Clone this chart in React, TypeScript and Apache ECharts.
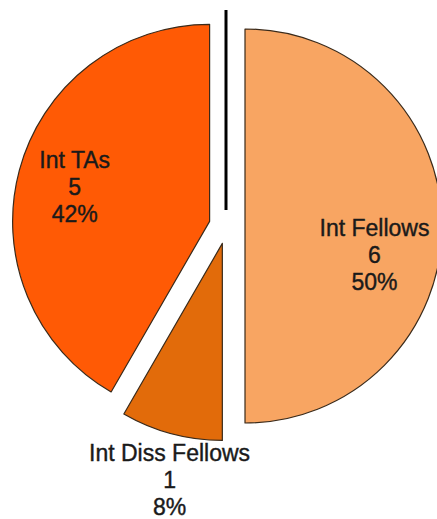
import React, { useEffect, useRef } from "react";
import * as echarts from "echarts";

const categories = ["Int Fellows", "Int Diss Fellows", "Int TAs"];
const values = [6, 1, 5];
const colors = ["#F8A562", "#E26B0A", "#FF5A05"];

export default function App() {
  const ref = useRef<HTMLDivElement>(null);
  useEffect(() => {
    document.body.style.margin = "0";
    const chart = echarts.init(ref.current!, null, { renderer: "svg" });
    const data = categories.map((name, i) => ({
      name,
      value: values[i],
      selected: true,
      itemStyle: { color: colors[i] },
    }));
    const labelShift: Record<number, { dx: number; dy: number }> = {
      0: { dx: -5, dy: 29 },
      1: { dx: -18, dy: 107 },
      2: { dx: -5, dy: 0 },
    };
    chart.setOption({
      animation: false,
      backgroundColor: "#ffffff",
      graphic: [
        {
          type: "line",
          shape: { x1: 226, y1: 10, x2: 226, y2: 210 },
          style: { stroke: "#000000", lineWidth: 3 },
        },
      ],
      series: [
        {
          type: "pie",
          center: [227, 226],
          radius: [0, 197],
          startAngle: 90,
          clockwise: true,
          selectedMode: "multiple",
          selectedOffset: 18,
          percentPrecision: 0,
          label: { show: false },
          labelLine: { show: false },
          emphasis: { disabled: true },
          itemStyle: { borderColor: "#3a2a1a", borderWidth: 1.2 },
          data,
        },
        {
          type: "pie",
          center: [227, 226],
          radius: [66, 197],
          startAngle: 90,
          clockwise: true,
          selectedMode: "multiple",
          selectedOffset: 18,
          percentPrecision: 0,
          silent: true,
          emphasis: { disabled: true },
          itemStyle: { color: "rgba(0,0,0,0)", borderWidth: 0 },
          labelLine: { show: false },
          label: {
            show: true,
            position: "inside",
            formatter: "{b}\n{c}\n{d}%",
            fontFamily: "Liberation Sans, Arial, sans-serif",
            fontSize: 23,
            lineHeight: 27,
            color: "#1a1a1a",
            textBorderColor: "#1a1a1a",
            textBorderWidth: 0.4,
            align: "center",
          },
          labelLayout: (p: any) => labelShift[p.dataIndex] || {},
          data: categories.map((name, i) => ({
            name,
            value: values[i],
            selected: true,
          })),
        },
      ],
    });
    return () => chart.dispose();
  }, []);
  return <div ref={ref} style={{ width: 437, height: 519 }} />;
}
